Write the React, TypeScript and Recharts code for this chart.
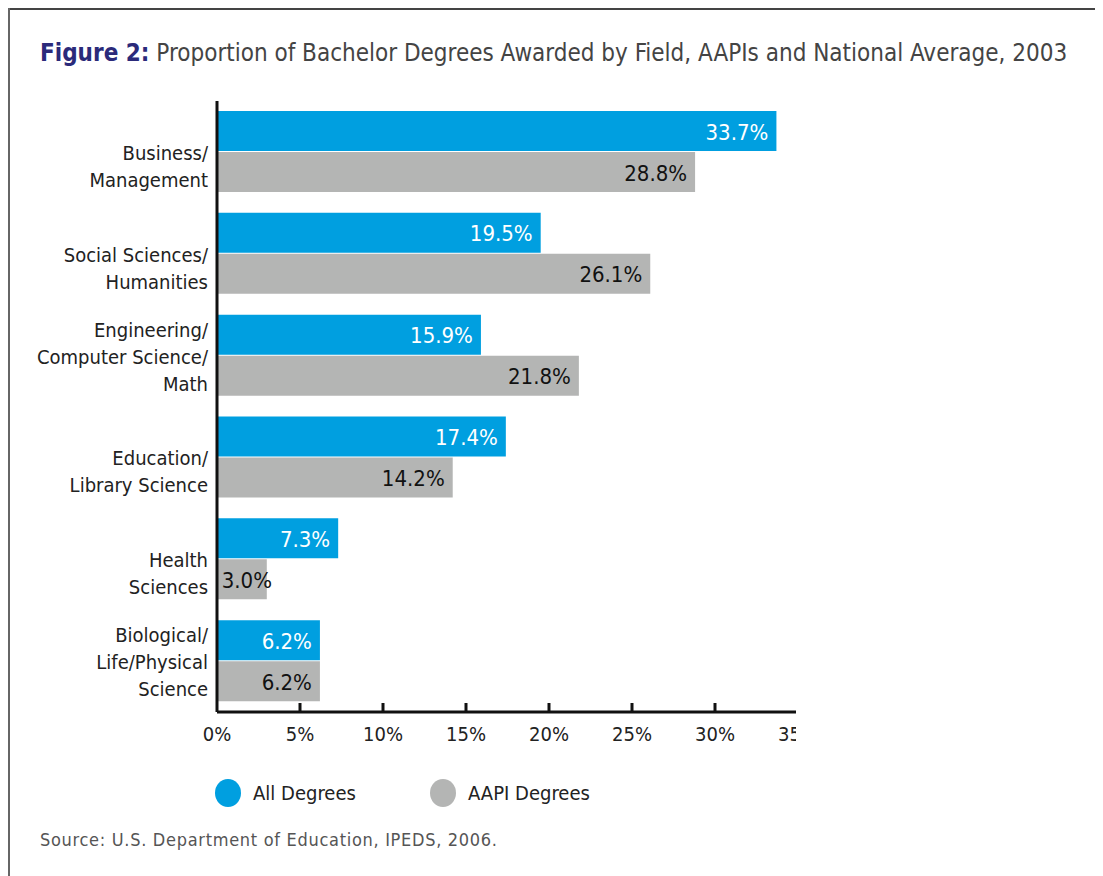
import React from 'react';
import { BarChart, Bar, XAxis, YAxis, LabelList } from 'recharts';

const categories = [
  'Business/\nManagement',
  'Social Sciences/\nHumanities',
  'Engineering/\nComputer Science/\nMath',
  'Education/\nLibrary Science',
  'Health\nSciences',
  'Biological/\nLife/Physical\nScience',
];
const allDegrees = [33.7, 19.5, 15.9, 17.4, 7.3, 6.2];
const aapiDegrees = [28.8, 26.1, 21.8, 14.2, 3.0, 6.2];
const xTicks = [0, 5, 10, 15, 20, 25, 30, 35];

const seriesNames = ['All Degrees', 'AAPI Degrees'];
const seriesColors = ['#009fe0', '#b4b5b4'];
const labelColors = ['#ffffff', '#111111'];

const FONT = '"Liberation Sans Narrow", "DejaVu Sans Condensed", "Roboto", sans-serif';

const data = categories.map((name, i) => ({
  name,
  all: allDegrees[i],
  aapi: aapiDegrees[i],
}));

const CategoryTick = ({ x, y, payload }: any) => {
  const lines = String(payload.value).split('\n');
  const n = lines.length;
  return (
    <g>
      {lines.map((line, i) => (
        <text
          key={i}
          x={x - 9}
          y={y + 1 + 27 * (i + 2 - n)}
          textAnchor="end"
          dominantBaseline="central"
          fontSize={20}
          fontFamily={FONT}
          fill="#222"
        >
          {line}
        </text>
      ))}
    </g>
  );
};

const ValueTick = ({ x, y, payload }: any) => (
  <g>
    {payload.value > 0 && (
      <line x1={x} x2={x} y1={y} y2={y - 9} stroke="#111" strokeWidth={3} />
    )}
    <text
      x={x}
      y={y + 22}
      textAnchor="middle"
      dominantBaseline="central"
      fontSize={20}
      fontFamily={FONT}
      fill="#222"
    >
      {`${payload.value}%`}
    </text>
  </g>
);

const makeLabel = (color: string) => (props: any) => {
  const { x, y, width, height, value } = props;
  const endX = Math.max(x + width - 8, x + 55);
  return (
    <text
      x={endX}
      y={y + height / 2 + 1}
      textAnchor="end"
      dominantBaseline="central"
      fontSize={22}
      fontFamily={FONT}
      fill={color}
    >
      {`${Number(value).toFixed(1)}%`}
    </text>
  );
};

export default function App() {
  return (
    <div style={{ position: 'relative', width: 1095, height: 868, fontFamily: FONT }}>
      <div style={{ position: 'absolute', left: 0, top: 0, width: 1095, height: 2, background: '#444' }} />
      <div style={{ position: 'absolute', left: 0, top: 0, width: 2, height: 868, background: '#666' }} />
      <div
        style={{
          position: 'absolute',
          left: 32,
          top: 31,
          fontSize: 24,
          color: '#444',
          whiteSpace: 'nowrap',
        }}
      >
        <span style={{ fontWeight: 'bold', color: '#2b2a7a' }}>Figure 2:</span> Proportion of Bachelor
        Degrees Awarded by Field, AAPIs and National Average, 2003
      </div>
      <div style={{ position: 'absolute', left: 0, top: 0, width: 788, height: 760, overflow: 'hidden' }}>
        <BarChart
          width={900}
          height={760}
          data={data}
          layout="vertical"
          margin={{ top: 93, right: 110, bottom: 16, left: 0 }}
          barGap={1}
          barCategoryGap={10}
        >
          <XAxis
            type="number"
            domain={[0, 35]}
            ticks={xTicks}
            axisLine={{ stroke: '#111', strokeWidth: 3 }}
            tickLine={false}
            tickSize={0}
            tickMargin={0}
            tick={<ValueTick />}
            height={40}
            interval={0}
          />
          <YAxis
            type="category"
            dataKey="name"
            width={209}
            axisLine={{ stroke: '#111', strokeWidth: 3 }}
            tickLine={false}
            tickSize={0}
            tickMargin={0}
            tick={<CategoryTick />}
            interval={0}
          />
          <Bar dataKey="all" fill={seriesColors[0]} barSize={40} isAnimationActive={false}>
            <LabelList dataKey="all" content={makeLabel(labelColors[0])} />
          </Bar>
          <Bar dataKey="aapi" fill={seriesColors[1]} barSize={40} isAnimationActive={false}>
            <LabelList dataKey="aapi" content={makeLabel(labelColors[1])} />
          </Bar>
        </BarChart>
      </div>
      <div style={{ position: 'absolute', left: 0, top: 771 }}>
        {seriesNames.map((name, i) => (
          <div
            key={name}
            style={{
              position: 'absolute',
              left: i === 0 ? 207 : 422,
              top: 0,
              display: 'flex',
              alignItems: 'center',
              whiteSpace: 'nowrap',
            }}
          >
            <div
              style={{
                width: 26,
                height: 28,
                borderRadius: '50%',
                background: seriesColors[i],
                marginRight: 12,
              }}
            />
            <span style={{ fontSize: 20, color: '#222' }}>{name}</span>
          </div>
        ))}
      </div>
      <div
        style={{
          position: 'absolute',
          left: 32,
          top: 821,
          fontSize: 18,
          color: '#555',
          letterSpacing: 0.7,
          whiteSpace: 'nowrap',
        }}
      >
        Source: U.S. Department of Education, IPEDS, 2006.
      </div>
    </div>
  );
}
